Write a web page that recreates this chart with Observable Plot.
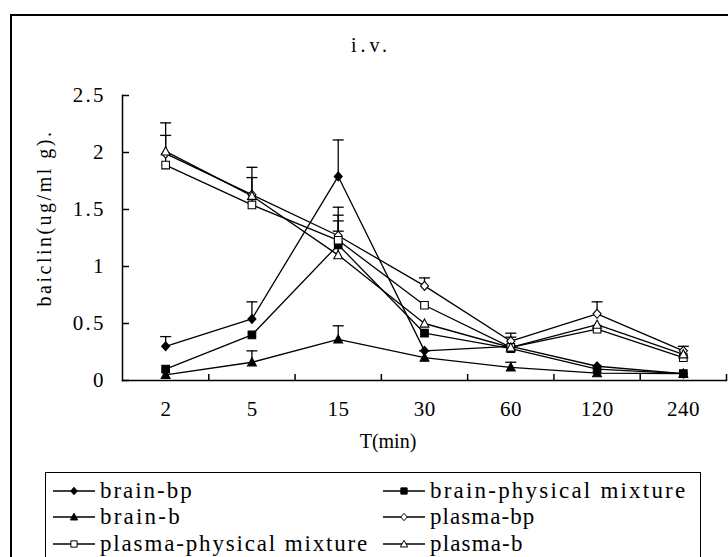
<!DOCTYPE html>
<html><head><meta charset="utf-8">
<script src="https://cdn.jsdelivr.net/npm/d3@7"></script>
<script src="https://cdn.jsdelivr.net/npm/@observablehq/plot@0.6"></script>
<style>
body{margin:0;width:728px;height:557px;overflow:hidden;background:#fff;position:relative;font-family:"Liberation Serif",serif;color:#000;}
#frame{position:absolute;left:10px;top:14px;width:760px;height:600px;border:2px solid #000;box-sizing:border-box;}
#chart{position:absolute;left:0;top:0;}
#title{position:absolute;left:0;width:742px;top:34px;line-height:22px;text-align:center;font-size:20px;}
#ylab{position:absolute;left:-56px;width:200px;top:207px;height:22px;line-height:22px;text-align:center;font-size:20px;transform:rotate(-90deg);}
#xlab{position:absolute;left:288px;width:200px;top:430px;line-height:22px;text-align:center;font-size:20px;}
#legend{position:absolute;left:45px;top:472px;width:656px;height:120px;border:1.5px solid #000;box-sizing:border-box;background:#fff;}
.item{position:absolute;height:26px;display:flex;align-items:center;font-size:23px;line-height:26px;white-space:pre;}
.item svg{margin-right:3px;}
</style></head>
<body>
<div id="frame"></div>
<div id="chart"></div>
<div id="title">i.v.</div>
<div id="ylab">baiclin(ug/ml g).</div>
<div id="xlab">T(min)</div>
<div id="legend"></div>
<script>
const categories = ["2","5","15","30","60","120","240"];
const yTicks = [0, 0.5, 1, 1.5, 2, 2.5];
const seriesNames = ["brain-bp","brain-physical mixture","brain-b","plasma-bp","plasma-physical mixture","plasma-b"];

const brainBp      = [0.30, 0.54, 1.79, 0.26, 0.30, 0.125, 0.06];
const brainBpErr   = [0.085, 0.15, 0.32, 0, 0.08, 0, 0];
const brainPm      = [0.10, 0.40, 1.19, 0.415, 0.28, 0.10, 0.06];
const brainPmErr   = [0, 0, 0.21, 0, 0, 0, 0];
const brainB       = [0.05, 0.16, 0.36, 0.20, 0.115, 0.065, 0.06];
const brainBErr    = [0, 0.10, 0.12, 0.06, 0.045, 0, 0];
const plasmaBp     = [1.99, 1.63, 1.27, 0.83, 0.345, 0.585, 0.26];
const plasmaBpErr  = [0.27, 0.24, 0.25, 0.07, 0.07, 0.105, 0.04];
const plasmaPm     = [1.89, 1.54, 1.23, 0.66, 0.29, 0.45, 0.20];
const plasmaPmErr  = [0.26, 0.24, 0.22, 0, 0, 0, 0];
const plasmaB      = [2.01, 1.62, 1.10, 0.50, 0.29, 0.49, 0.23];
const plasmaBErr   = [0, 0, 0.21, 0, 0, 0, 0];

const seriesValues = [brainBp, brainPm, brainB, plasmaBp, plasmaPm, plasmaB];
const seriesErrs = [brainBpErr, brainPmErr, brainBErr, plasmaBpErr, plasmaPmErr, plasmaBErr];
const seriesShapes = ["diamond","square","triangle","diamond","square","triangle"];
const seriesFills = ["black","black","black","white","white","white"];

function rr(size){ return Math.sqrt(size/Math.PI); }
const shapes = {
  diamond: {draw(c, s){ const r = rr(s); c.moveTo(0,-r*1.12); c.lineTo(r,0); c.lineTo(0,r*1.12); c.lineTo(-r,0); c.closePath(); }},
  square: {draw(c, s){ const r = rr(s)*0.95; c.moveTo(-r,-r); c.lineTo(r,-r); c.lineTo(r,r); c.lineTo(-r,r); c.closePath(); }},
  triangle: {draw(c, s){ const r = rr(s); c.moveTo(0,-r*1.15); c.lineTo(r*1.1,r*0.9); c.lineTo(-r*1.1,r*0.9); c.closePath(); }}
};
const cap = {draw(c, s){ const r = rr(s); c.moveTo(-r,0); c.lineTo(r,0); }};

const rows = seriesNames.flatMap((name, k) => seriesValues[k].map((v, i) => ({series: name, k, i, v, e: seriesErrs[k][i]})));
const errRows = rows.filter(d => d.e > 0);
const centers = categories.map((c, i) => i);
const boundaries = categories.map((c, i) => i + 0.5);

const H = 460;
const marks = [
  Plot.line(rows, {x: "i", y: "v", z: "series", stroke: "black", strokeWidth: 1.3}),
  Plot.ruleX(errRows, {x: "i", y1: "v", y2: d => d.v + d.e, stroke: "black", strokeWidth: 1.3}),
  Plot.dot(errRows, {x: "i", y: d => d.v + d.e, symbol: cap, r: 5.5, stroke: "black", strokeWidth: 1.3, fill: "none"})
];
seriesNames.forEach((name, k) => {
  marks.push(Plot.dot(rows.filter(d => d.k === k), {x: "i", y: "v", symbol: shapes[seriesShapes[k]], r: 4, fill: seriesFills[k], stroke: "black", strokeWidth: 1.1}));
});
marks.push(
  Plot.axisY({ticks: yTicks, tickSize: 0, tickPadding: 19, tickFormat: d => String(d), fontSize: 21}),
  Plot.axisY({ticks: yTicks, tickSize: -7, tickFormat: () => "", strokeWidth: 1.5}),
  Plot.axisX({ticks: centers, tickSize: 0, tickPadding: 21, tickFormat: i => categories[i], fontSize: 21}),
  Plot.axisX({ticks: boundaries, tickSize: -6, tickFormat: () => "", strokeWidth: 1.5}),
  Plot.frame({anchor: "left", strokeWidth: 1.5}),
  Plot.frame({anchor: "bottom", strokeWidth: 1.5})
);

const chart = Plot.plot({
  width: 728, height: H,
  marginLeft: 122, marginRight: 2, marginTop: 95, marginBottom: H - 380,
  x: {type: "linear", domain: [-0.5, categories.length - 0.5], label: null},
  y: {domain: [0, 2.5], label: null},
  style: {fontFamily: "Liberation Serif, serif", fontSize: "21px", color: "black", background: "transparent", overflow: "visible"},
  marks
});
document.getElementById("chart").appendChild(chart);

// spread glyphs to mimic the half-width cells of the original font
const ctx = document.createElement("canvas").getContext("2d");
function spacing(text, size, cell){
  ctx.font = size + 'px "Liberation Serif"';
  return Math.max(0, (cell * text.length - ctx.measureText(text).width) / text.length);
}
function spread(el, size, cell){ el.style.letterSpacing = spacing(el.textContent, size, cell) + "px"; }
d3.select(chart).selectAll("text").each(function(){
  const t = this.textContent;
  if (!t) return;
  const ls = spacing(t, 21, 11);
  this.style.letterSpacing = ls + "px";
  const anchor = this.closest("[text-anchor]")?.getAttribute("text-anchor");
  if (anchor === "middle") this.setAttribute("dx", (+this.getAttribute("dx") || 0) + ls / 2);
  if (anchor === "end") this.setAttribute("dx", (+this.getAttribute("dx") || 0) + ls);
});
spread(document.getElementById("title"), 20, 10);
spread(document.getElementById("ylab"), 20, 10.4);
spread(document.getElementById("xlab"), 20, 9);

// legend
const legend = document.getElementById("legend");
seriesNames.forEach((name, k) => {
  const col = k % 2, row = Math.floor(k / 2);
  const div = document.createElement("div");
  div.className = "item";
  div.style.left = (col === 0 ? 7 : 337) + "px";
  div.style.top = (4.5 + row * 26.5) + "px";
  const svg = d3.create("svg").attr("width", 44).attr("height", 26);
  svg.append("line").attr("x1", 0).attr("x2", 42).attr("y1", 13).attr("y2", 13).attr("stroke", "black").attr("stroke-width", 1.3);
  const size = Math.PI * 3.3 * 3.3;
  svg.append("path").attr("transform", "translate(21,13)").attr("d", d3.symbol(shapes[seriesShapes[k]], size)())
    .attr("fill", seriesFills[k]).attr("stroke", "black").attr("stroke-width", 1);
  div.appendChild(svg.node());
  const span = document.createElement("span");
  span.textContent = name;
  spread(span, 23, 11.7);
  div.appendChild(span);
  legend.appendChild(div);
});
</script>
</body></html>
